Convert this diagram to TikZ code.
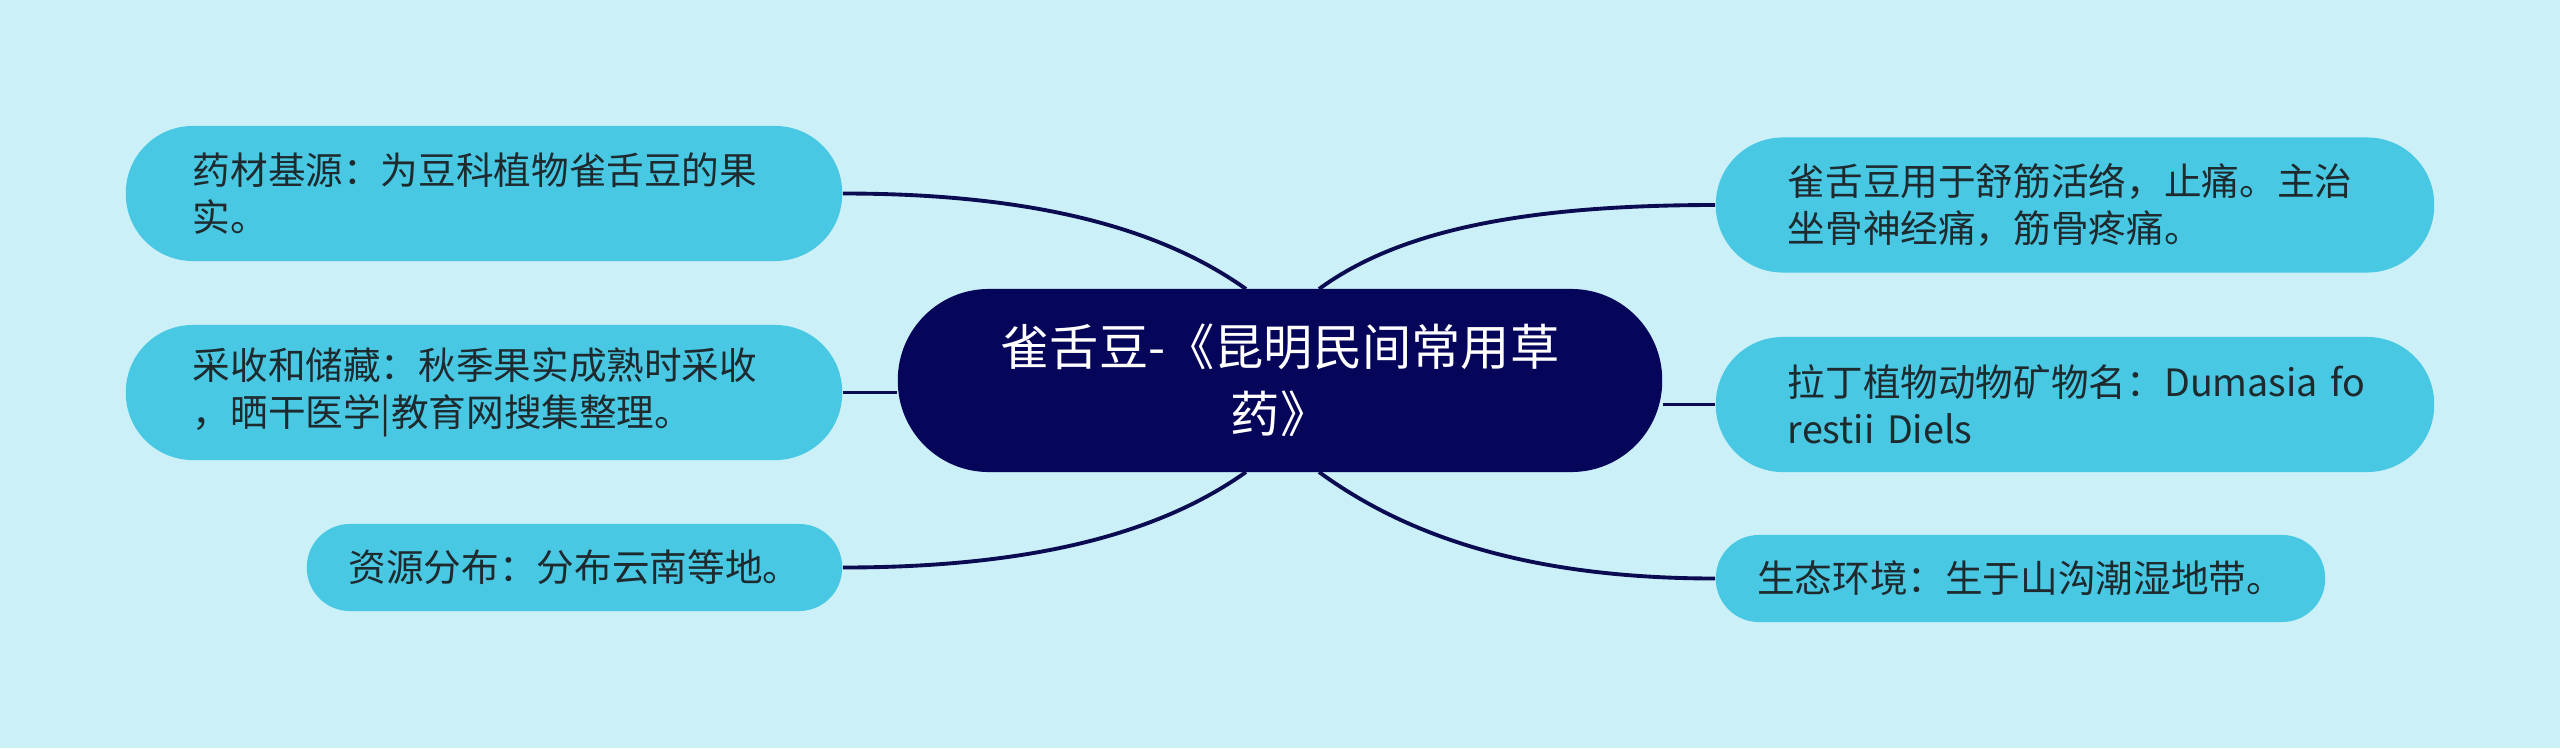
\documentclass[tikz,border=0pt]{standalone}
\usepackage{fontspec}
\newfontfamily\cjk{Noto Sans CJK SC}
\definecolor{bg}{HTML}{CBF0F8}
\definecolor{leaf}{HTML}{48C8E3}
\definecolor{root}{HTML}{05055A}
\definecolor{edge}{HTML}{0B0B52}
\definecolor{ink}{HTML}{1E2A2E}
\tikzset{
  leafbox/.style={fill=leaf, text=ink, inner xsep=0pt, inner ysep=0pt,
    font=\cjk\fontsize{10.7}{13.4}\selectfont, align=left},
  bigleaf/.style={leafbox, minimum height=1.35cm, rounded corners=0.67cm},
  smallleaf/.style={leafbox, minimum height=0.87cm, rounded corners=0.43cm, align=center},
  rootbox/.style={fill=root, text=white, inner sep=0pt, minimum width=7.64cm,
    minimum height=1.83cm, rounded corners=0.91cm, align=center,
    font=\cjk\fontsize{14}{19}\selectfont},
  link/.style={draw=edge, line width=1.1pt}
}
\begin{document}
\begin{tikzpicture}[x=0.01cm, y=-0.01cm]
\useasboundingbox[fill=bg] (0,0) rectangle (2560,748);
% connector end points on the central node's edge
\coordinate (CTL) at (1246,289);
\coordinate (CTR) at (1319,289);
\coordinate (CBL) at (1246,472);
\coordinate (CBR) at (1319,472);
% nodes
\node[rootbox] (C) at (1280,380.5) {雀舌豆-《昆明民间常用草\\药》};
\node[bigleaf, minimum width=7.16cm, text width=5.82cm] (L1) at (484,193.5)
  {药材基源：为豆科植物雀舌豆的果\\实。};
\node[bigleaf, minimum width=7.16cm, text width=5.82cm] (L2) at (484,392.5)
  {采收和储藏：秋季果实成熟时采收\\，晒干医学|教育网搜集整理。};
\node[smallleaf, minimum width=5.35cm] (L3) at (574.5,567.5)
  {资源分布：分布云南等地。};
\node[bigleaf, minimum width=7.18cm, text width=5.74cm] (R1) at (2075,205)
  {雀舌豆用于舒筋活络，止痛。主治\\坐骨神经痛，筋骨疼痛。};
\node[bigleaf, minimum width=7.18cm, text width=5.74cm] (R2) at (2075,404.5)
  {\mbox{拉丁植物动物矿物名：Dumasia fo}\\\mbox{restii Diels}};
\node[smallleaf, minimum width=6.09cm] (R3) at (2020.5,578.5)
  {生态环境：生于山沟潮湿地带。};
% connectors
\draw[link] (L1.east) .. controls +(208,0) and +(-76,-54) .. (CTL);
\draw[link] (L2.east) -- (L2.east -| C.west);
\draw[link] (L3.east) .. controls +(208,0) and +(-76,54) .. (CBL);
\draw[link] (R1.west) .. controls +(-206,0) and +(74,-54) .. (CTR);
\draw[link] (R2.west) -- (R2.west -| C.east);
\draw[link] (R3.west) .. controls +(-206,0) and +(74,54) .. (CBR);
\end{tikzpicture}
\end{document}
